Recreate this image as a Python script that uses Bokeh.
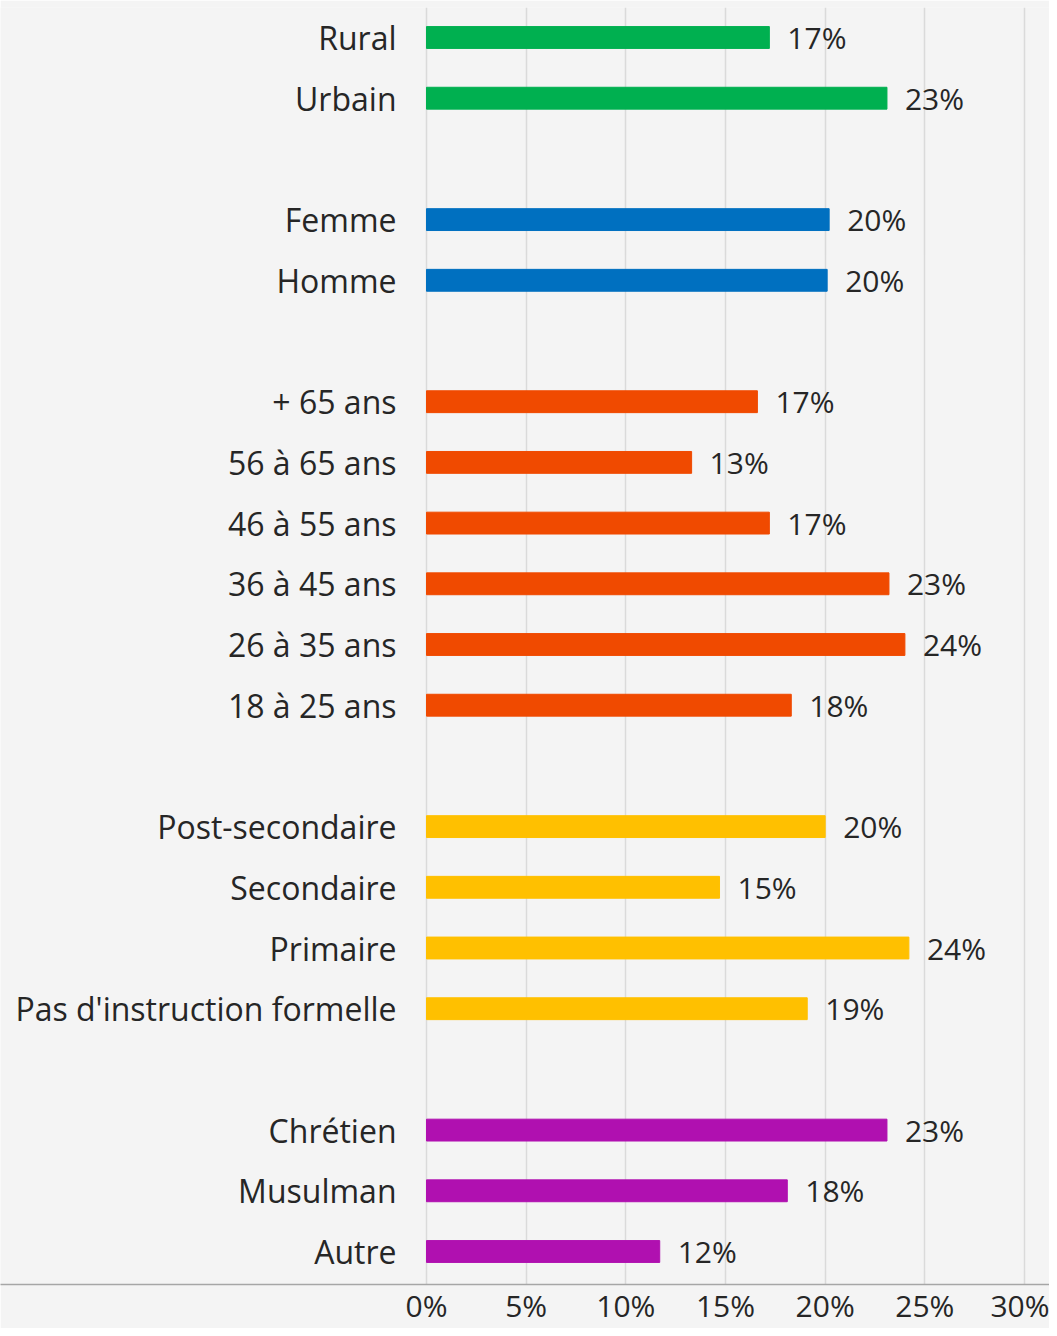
from bokeh.plotting import figure
from bokeh.models import ColumnDataSource, Range1d, FixedTicker
from bokeh.core.properties import value
from bokeh.embed import file_html
from bokeh.resources import INLINE

# ---- data ----
groups = [
    ["Rural", "Urbain"],
    ["Femme", "Homme"],
    ["+ 65 ans", "56 à 65 ans", "46 à 55 ans", "36 à 45 ans", "26 à 35 ans", "18 à 25 ans"],
    ["Post-secondaire", "Secondaire", "Primaire", "Pas d'instruction formelle"],
    ["Chrétien", "Musulman", "Autre"],
]
group_values = [
    [17.2, 23.1],
    [20.2, 20.1],
    [16.6, 13.3, 17.2, 23.2, 24.0, 18.3],
    [20.0, 14.7, 24.2, 19.1],
    [23.1, 18.1, 11.7],
]
group_labels = [
    ["17%", "23%"],
    ["20%", "20%"],
    ["17%", "13%", "17%", "23%", "24%", "18%"],
    ["20%", "15%", "24%", "19%"],
    ["23%", "18%", "12%"],
]
group_colors = ["#00B050", "#0070C0", "#F04A00", "#FFC000", "#B010B0"]
x_ticks = [0, 5, 10, 15, 20, 25, 30]
x_tick_labels = ["0%", "5%", "10%", "15%", "20%", "25%", "30%"]

# ---- build table (one empty slot between groups) ----
cats, vals, lbls, cols, pos, zero = [], [], [], [], [], []
slot = 0
for g, vs, ls, c in zip(groups, group_values, group_labels, group_colors):
    for name, v, l in zip(g, vs, ls):
        cats.append(name); vals.append(v); lbls.append(l); cols.append(c)
        pos.append(slot); zero.append(0)
        slot += 1
    slot += 1
last = slot - 2

src = ColumnDataSource(dict(cat=cats, val=vals, lbl=lbls, col=cols, pos=pos, zero=zero))

BG = "#F4F4F4"
TXT = "#262626"
FONT = "Open Sans"

W, H = 1049, 1328
top_border = 7
frame_bottom = 1284
frame_h = frame_bottom - top_border
px_per_unit = (1024 - 426) / 30.0
x_start = -426 / px_per_unit
x_end = (W - 426) / px_per_unit
r0, rl = 37 - top_border, 1251 - top_border
row = (rl - r0) / last
y_top = -r0 / row
y_bot = last + (frame_h - rl) / row

p = figure(width=W, height=H, output_backend="svg", toolbar_location=None,
           x_range=Range1d(x_start, x_end), y_range=Range1d(y_bot, y_top),
           y_axis_location=None, min_border_left=0, min_border_right=0,
           min_border_top=top_border, min_border_bottom=H - frame_bottom,
           background_fill_color=BG, border_fill_color=BG, outline_line_color=None)

ticker = FixedTicker(ticks=x_ticks)
p.xaxis.ticker = ticker
p.xaxis.major_label_overrides = {t: s for t, s in zip(x_ticks, x_tick_labels)}
p.xaxis.major_tick_line_color = None
p.xaxis.major_tick_out = 0
p.xaxis.major_tick_in = 0
p.xaxis.minor_tick_line_color = None
p.xaxis.minor_tick_out = 0
p.xaxis.axis_line_color = "#A6A6A6"
p.xaxis.axis_line_width = 1.5
p.xaxis.major_label_text_font = FONT
p.xaxis.major_label_text_font_size = "30px"
p.xaxis.major_label_text_color = TXT
p.xaxis.major_label_standoff = 0

p.xgrid.ticker = ticker
p.xgrid.grid_line_color = "#DADADA"
p.xgrid.grid_line_width = 1.5
p.ygrid.grid_line_color = None

p.hbar(y="pos", left="zero", right="val", height=0.36, color="col", source=src)

p.text(x="zero", y="pos", text="cat", source=src, x_offset=-30,
       text_align="right", text_baseline="middle",
       text_font=value(FONT), text_font_size="32px", text_color=TXT)
p.text(x="val", y="pos", text="lbl", source=src, x_offset=18,
       text_align="left", text_baseline="middle",
       text_font=value(FONT), text_font_size="30px", text_color=TXT)

open("out.html", "w").write(file_html(p, INLINE))
